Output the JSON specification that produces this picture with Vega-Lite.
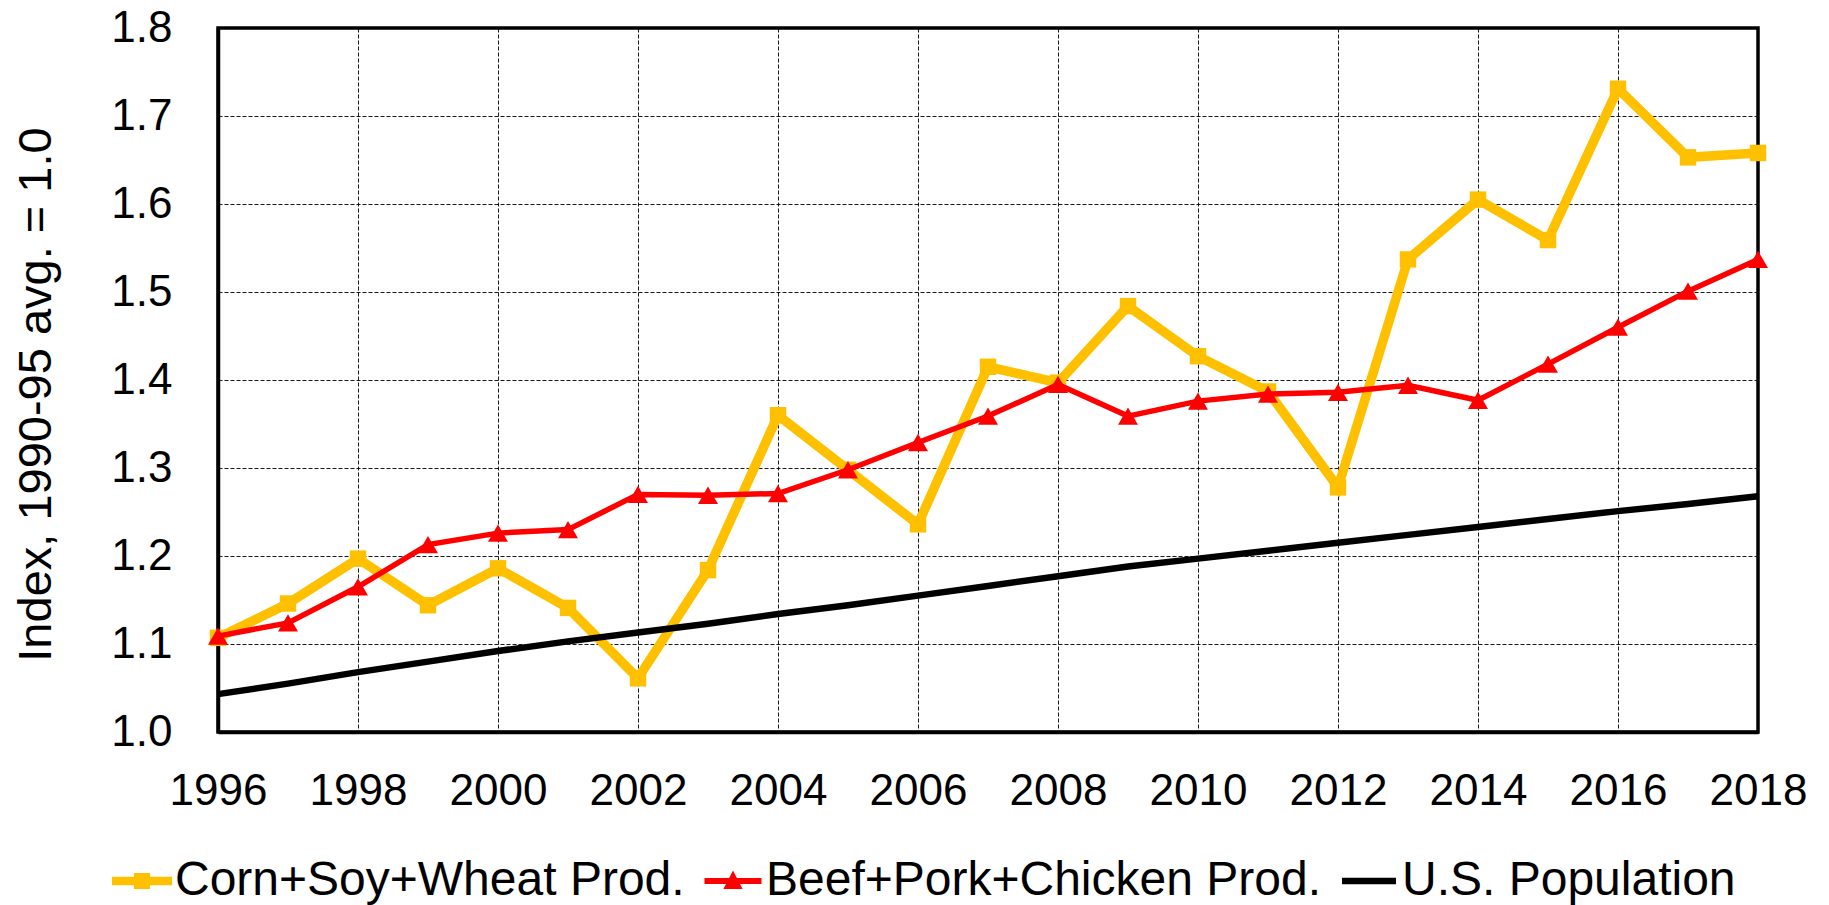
{
  "$schema": "https://vega.github.io/schema/vega-lite/v6.json",
  "width": 1540,
  "height": 704,
  "autosize": {"type": "none"},
  "padding": {"left": 218, "top": 28, "right": 71, "bottom": 173},
  "background": "white",
  "config": {
    "font": "Liberation Sans",
    "view": {"stroke": "black", "strokeWidth": 3.5},
    "axis": {
      "labelFont": "Liberation Sans",
      "labelColor": "black",
      "titleFont": "Liberation Sans",
      "titleColor": "black",
      "titleFontWeight": "normal",
      "gridColor": "black",
      "gridDash": [4, 2],
      "gridWidth": 1,
      "gridOpacity": 0.9,
      "domainColor": "black",
      "domainWidth": 3.5,
      "ticks": false,
      "tickSize": 0
    }
  },
  "data": {
    "values": [
      {"year": 1996, "series": "Corn+Soy+Wheat Prod.", "value": 1.107},
      {"year": 1997, "series": "Corn+Soy+Wheat Prod.", "value": 1.146},
      {"year": 1998, "series": "Corn+Soy+Wheat Prod.", "value": 1.197},
      {"year": 1999, "series": "Corn+Soy+Wheat Prod.", "value": 1.144},
      {"year": 2000, "series": "Corn+Soy+Wheat Prod.", "value": 1.186},
      {"year": 2001, "series": "Corn+Soy+Wheat Prod.", "value": 1.141},
      {"year": 2002, "series": "Corn+Soy+Wheat Prod.", "value": 1.061},
      {"year": 2003, "series": "Corn+Soy+Wheat Prod.", "value": 1.184},
      {"year": 2004, "series": "Corn+Soy+Wheat Prod.", "value": 1.360},
      {"year": 2005, "series": "Corn+Soy+Wheat Prod.", "value": 1.298},
      {"year": 2006, "series": "Corn+Soy+Wheat Prod.", "value": 1.236},
      {"year": 2007, "series": "Corn+Soy+Wheat Prod.", "value": 1.415},
      {"year": 2008, "series": "Corn+Soy+Wheat Prod.", "value": 1.397},
      {"year": 2009, "series": "Corn+Soy+Wheat Prod.", "value": 1.484},
      {"year": 2010, "series": "Corn+Soy+Wheat Prod.", "value": 1.427},
      {"year": 2011, "series": "Corn+Soy+Wheat Prod.", "value": 1.387},
      {"year": 2012, "series": "Corn+Soy+Wheat Prod.", "value": 1.278},
      {"year": 2013, "series": "Corn+Soy+Wheat Prod.", "value": 1.537},
      {"year": 2014, "series": "Corn+Soy+Wheat Prod.", "value": 1.605},
      {"year": 2015, "series": "Corn+Soy+Wheat Prod.", "value": 1.559},
      {"year": 2016, "series": "Corn+Soy+Wheat Prod.", "value": 1.731},
      {"year": 2017, "series": "Corn+Soy+Wheat Prod.", "value": 1.653},
      {"year": 2018, "series": "Corn+Soy+Wheat Prod.", "value": 1.658},
      {"year": 1996, "series": "Beef+Pork+Chicken Prod.", "value": 1.109},
      {"year": 1997, "series": "Beef+Pork+Chicken Prod.", "value": 1.124},
      {"year": 1998, "series": "Beef+Pork+Chicken Prod.", "value": 1.165},
      {"year": 1999, "series": "Beef+Pork+Chicken Prod.", "value": 1.213},
      {"year": 2000, "series": "Beef+Pork+Chicken Prod.", "value": 1.226},
      {"year": 2001, "series": "Beef+Pork+Chicken Prod.", "value": 1.230},
      {"year": 2002, "series": "Beef+Pork+Chicken Prod.", "value": 1.270},
      {"year": 2003, "series": "Beef+Pork+Chicken Prod.", "value": 1.269},
      {"year": 2004, "series": "Beef+Pork+Chicken Prod.", "value": 1.271},
      {"year": 2005, "series": "Beef+Pork+Chicken Prod.", "value": 1.298},
      {"year": 2006, "series": "Beef+Pork+Chicken Prod.", "value": 1.329},
      {"year": 2007, "series": "Beef+Pork+Chicken Prod.", "value": 1.359},
      {"year": 2008, "series": "Beef+Pork+Chicken Prod.", "value": 1.395},
      {"year": 2009, "series": "Beef+Pork+Chicken Prod.", "value": 1.359},
      {"year": 2010, "series": "Beef+Pork+Chicken Prod.", "value": 1.376},
      {"year": 2011, "series": "Beef+Pork+Chicken Prod.", "value": 1.384},
      {"year": 2012, "series": "Beef+Pork+Chicken Prod.", "value": 1.386},
      {"year": 2013, "series": "Beef+Pork+Chicken Prod.", "value": 1.394},
      {"year": 2014, "series": "Beef+Pork+Chicken Prod.", "value": 1.377},
      {"year": 2015, "series": "Beef+Pork+Chicken Prod.", "value": 1.418},
      {"year": 2016, "series": "Beef+Pork+Chicken Prod.", "value": 1.460},
      {"year": 2017, "series": "Beef+Pork+Chicken Prod.", "value": 1.501},
      {"year": 2018, "series": "Beef+Pork+Chicken Prod.", "value": 1.537},
      {"year": 1996, "series": "U.S. Population", "value": 1.043},
      {"year": 1997, "series": "U.S. Population", "value": 1.055},
      {"year": 1998, "series": "U.S. Population", "value": 1.068},
      {"year": 1999, "series": "U.S. Population", "value": 1.080},
      {"year": 2000, "series": "U.S. Population", "value": 1.092},
      {"year": 2001, "series": "U.S. Population", "value": 1.103},
      {"year": 2002, "series": "U.S. Population", "value": 1.113},
      {"year": 2003, "series": "U.S. Population", "value": 1.123},
      {"year": 2004, "series": "U.S. Population", "value": 1.134},
      {"year": 2005, "series": "U.S. Population", "value": 1.144},
      {"year": 2006, "series": "U.S. Population", "value": 1.155},
      {"year": 2007, "series": "U.S. Population", "value": 1.166},
      {"year": 2008, "series": "U.S. Population", "value": 1.177},
      {"year": 2009, "series": "U.S. Population", "value": 1.188},
      {"year": 2010, "series": "U.S. Population", "value": 1.197},
      {"year": 2011, "series": "U.S. Population", "value": 1.206},
      {"year": 2012, "series": "U.S. Population", "value": 1.215},
      {"year": 2013, "series": "U.S. Population", "value": 1.224},
      {"year": 2014, "series": "U.S. Population", "value": 1.233},
      {"year": 2015, "series": "U.S. Population", "value": 1.242},
      {"year": 2016, "series": "U.S. Population", "value": 1.251},
      {"year": 2017, "series": "U.S. Population", "value": 1.259},
      {"year": 2018, "series": "U.S. Population", "value": 1.268}
    ]
  },
  "encoding": {
    "x": {
      "field": "year",
      "type": "quantitative",
      "scale": {"domain": [1996, 2018], "nice": false, "zero": false},
      "axis": {
        "title": null,
        "values": [1996, 1998, 2000, 2002, 2004, 2006, 2008, 2010, 2012, 2014, 2016, 2018],
        "format": "d",
        "labelFontSize": 44,
        "labelBaseline": "alphabetic",
        "labelPadding": 72,
        "labelFlush": false,
        "labelOverlap": false,
        "grid": true
      }
    },
    "y": {
      "field": "value",
      "type": "quantitative",
      "scale": {"domain": [1.0, 1.8], "nice": false, "zero": false},
      "axis": {
        "title": "Index, 1990-95 avg. = 1.0",
        "titleFontSize": 47,
        "titleX": -168,
        "titleY": 366,
        "titleAngle": -90,
        "titleAlign": "center",
        "titleBaseline": "alphabetic",
        "values": [1.0, 1.1, 1.2, 1.3, 1.4, 1.5, 1.6, 1.7, 1.8],
        "format": ".1f",
        "labelFontSize": 44,
        "labelPadding": 46,
        "labelBaseline": "middle",
        "labelFlush": false,
        "labelOverlap": false,
        "grid": true
      }
    },
    "color": {
      "field": "series",
      "type": "nominal",
      "scale": {
        "domain": ["Corn+Soy+Wheat Prod.", "Beef+Pork+Chicken Prod.", "U.S. Population"],
        "range": ["#FFC000", "#FF0000", "#000000"]
      },
      "legend": {
        "title": null,
        "orient": "none",
        "direction": "horizontal",
        "legendX": -106,
        "legendY": 823,
        "labelFont": "Liberation Sans",
        "labelFontSize": 48,
        "labelColor": "black",
        "labelLimit": 1000,
        "labelOffset": 3,
        "columnPadding": 18,
        "symbolSize": 3600,
        "symbolType": "square",
        "encode": {
          "symbols": {
            "update": {
              "shape": {"signal": "datum.value === 'Corn+Soy+Wheat Prod.' ? 'M-1,-0.14H1V0.14H-1Z M-0.27,-0.27H0.27V0.27H-0.27Z' : datum.value === 'Beef+Pork+Chicken Prod.' ? 'M-0.95,-0.1H0.95V0.1H-0.95Z M0,-0.35L0.32,0.27H-0.32Z' : 'M-0.9,-0.11H0.9V0.11H-0.9Z'"},
              "fill": {"signal": "datum.value === 'Corn+Soy+Wheat Prod.' ? '#FFC000' : datum.value === 'Beef+Pork+Chicken Prod.' ? '#FF0000' : '#000000'"},
              "stroke": {"value": "transparent"},
              "strokeWidth": {"value": 0},
              "opacity": {"value": 1},
              "fillOpacity": {"value": 1}
            }
          }
        }
      }
    }
  },
  "layer": [
    {
      "transform": [{"filter": {"field": "series", "equal": "Corn+Soy+Wheat Prod."}}],
      "mark": {"type": "line", "strokeWidth": 9.5, "strokeJoin": "miter"}
    },
    {
      "transform": [{"filter": {"field": "series", "equal": "Corn+Soy+Wheat Prod."}}],
      "mark": {"type": "point", "shape": "square", "filled": true, "size": 270, "opacity": 1}
    },
    {
      "transform": [{"filter": {"field": "series", "equal": "Beef+Pork+Chicken Prod."}}],
      "mark": {"type": "line", "strokeWidth": 5.5, "strokeJoin": "miter"}
    },
    {
      "transform": [{"filter": {"field": "series", "equal": "Beef+Pork+Chicken Prod."}}],
      "mark": {"type": "point", "shape": "triangle-up", "filled": true, "size": 400, "opacity": 1}
    },
    {
      "transform": [{"filter": {"field": "series", "equal": "U.S. Population"}}],
      "mark": {"type": "line", "strokeWidth": 6.5}
    }
  ]
}
